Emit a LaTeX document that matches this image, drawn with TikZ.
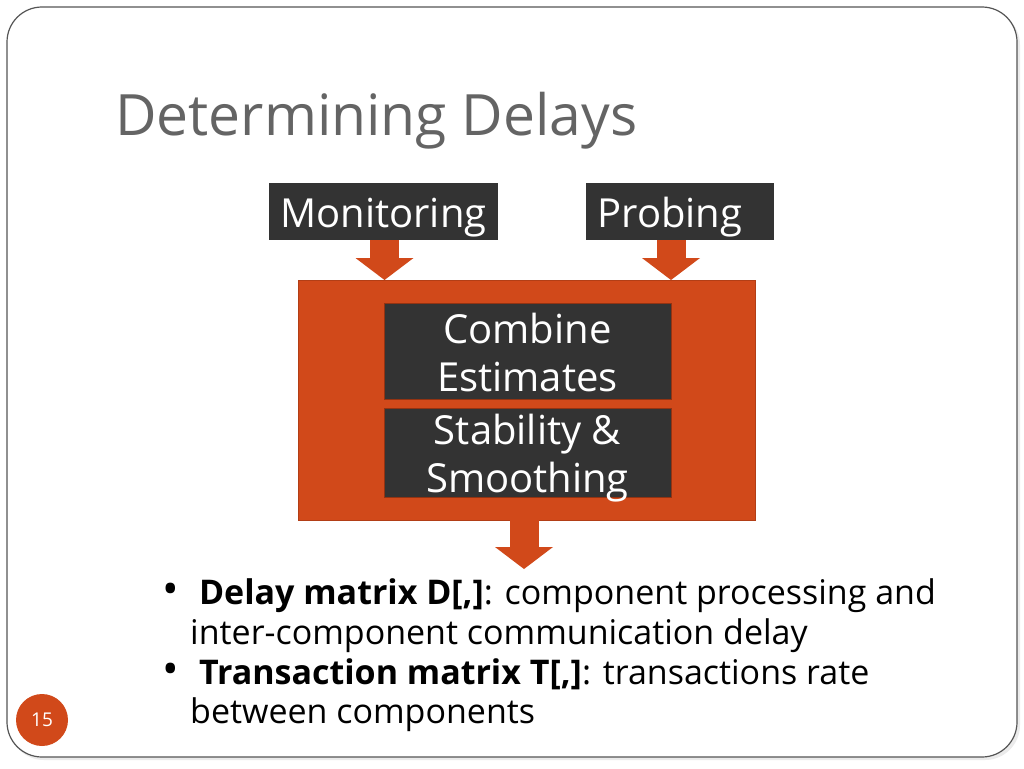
\documentclass[tikz,border=0pt]{standalone}
\usepackage{fontspec}
\setmainfont{Open Sans}
\usetikzlibrary{arrows.meta}
\definecolor{orng}{RGB}{209,73,26}
\definecolor{darkbg}{RGB}{51,51,51}
\definecolor{ttl}{RGB}{100,100,100}
\definecolor{frame}{RGB}{85,85,85}
\tikzset{
  darkbox/.style={fill=darkbg, text=white, inner sep=0pt,
    font=\fontsize{40}{48}\selectfont, text height=40pt, text depth=9pt},
  innerbox/.style={fill=darkbg, draw=orng!70!black, line width=0.8pt, inner sep=0pt},
  boxtext/.style={anchor=base, inner sep=0pt, text=white, font=\fontsize{40}{48}\selectfont},
  blockarrow/.style={draw=orng, line width=29pt,
    -{Triangle[width=58pt,length=22pt,line width=0pt]}},
  bullettext/.style={anchor=base west, inner sep=0pt, font=\fontsize{34}{40}\selectfont},
  bulletdot/.style={anchor=base west, inner sep=0pt, font=\fontsize{44}{40}\selectfont}
}
\begin{document}
\begin{tikzpicture}[x=1pt,y=-1pt]
\useasboundingbox (0,0) rectangle (1024,768);
\fill[white] (0,0) rectangle (1024,768);
\fill[black!8, rounded corners=35pt] (9,10) rectangle (1020,760);
\draw[frame, line width=1.2pt, fill=white, rounded corners=35pt] (7,7) rectangle (1017,757);

\node[anchor=base west, inner sep=0pt, text=ttl, font=\fontsize{57}{68}\selectfont] (title) at (115,135) {Determining Delays};

\node[darkbox, minimum width=229pt, minimum height=57pt] (mon) at (383.5,211.5) {Monitoring};
\node[darkbox, minimum width=188pt, minimum height=57pt] (prob) at (680,211.5) {Probing\hspace*{20pt}};

\draw[blockarrow] ([xshift=1pt]mon.south) -- (384.5,280);
\coordinate (probtip) at (671,280);
\draw[blockarrow] (prob.south -| probtip) -- (probtip);

\node[fill=orng, draw=orng!85!black, line width=0.8pt, minimum width=457pt, minimum height=240pt, inner sep=0pt] (big) at (526.5,400) {};

\node[innerbox, minimum width=287pt, minimum height=96pt] (comb) at (527.5,351) {};
\node[boxtext] (comb1) at (527.5,343) {Combine};
\node[boxtext] (comb2) at (527.5,391) {Estimates};
\node[innerbox, minimum width=287pt, minimum height=89pt] (stab) at (527.5,452.5) {};
\node[boxtext] (stab1) at (527.5,444) {Stability \&};
\node[boxtext] (stab2) at (527.5,492) {Smoothing};

\coordinate (outtip) at (524,569);
\draw[blockarrow] (big.south -| outtip) -- (outtip);

\node[bulletdot] (b1) at (162,604) {•};
\node[bullettext] (l1) at (190,604) {\ \textbf{Delay matrix D[,]}: component processing and};
\node[bullettext] (l2) at (190,644) {inter-component communication delay};
\node[bulletdot] (b2) at (162,684) {•};
\node[bullettext] (l3) at (190,684) {\ \textbf{Transaction matrix T[,]}: transactions rate};
\node[bullettext] (l4) at (190,723) {between components};

\node[circle, fill=orng, minimum size=52pt, inner sep=0pt, text=white, font=\fontsize{19}{21}\selectfont] (page) at (42,720) {15};
\end{tikzpicture}
\end{document}
